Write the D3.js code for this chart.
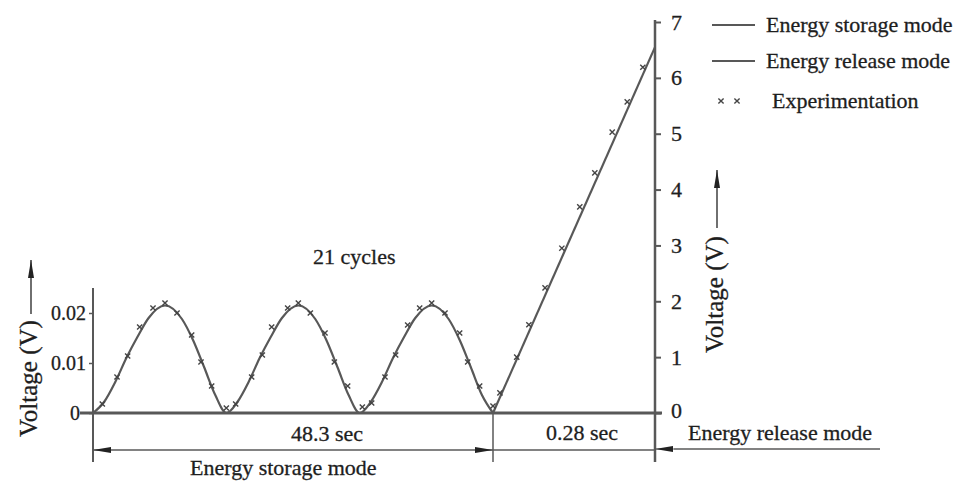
<!DOCTYPE html>
<html>
<head>
<meta charset="utf-8">
<script src="https://cdn.jsdelivr.net/npm/d3@7"></script>
<style>
  body { margin: 0; background: #fff; }
  text { font-family: "Liberation Serif", "Times New Roman", serif; fill: #1e1e1e; stroke: #1e1e1e; stroke-width: 0.3px; }
</style>
</head>
<body>
<svg id="chart" width="971" height="482"></svg>
<script>
// storage mode curve, x in cycles, voltage in V
var storeX = [0, 0.083, 0.167, 0.25, 0.333, 0.417, 0.54, 0.667, 0.75, 0.833, 0.917,
              1, 1.083, 1.167, 1.25, 1.333, 1.417, 1.54, 1.667, 1.75, 1.833, 1.917,
              2, 2.083, 2.167, 2.25, 2.333, 2.417, 2.54, 2.667, 2.75, 2.833, 2.917, 3];
var storeV = [0, 0.0022, 0.0062, 0.0110, 0.0152, 0.0190, 0.0215, 0.0188, 0.0146, 0.0092, 0.0036,
              0, 0.0022, 0.0062, 0.0110, 0.0152, 0.0190, 0.0215, 0.0188, 0.0146, 0.0092, 0.0036,
              0, 0.0022, 0.0062, 0.0110, 0.0152, 0.0190, 0.0215, 0.0188, 0.0146, 0.0092, 0.0036, 0];

// experiment points during storage
var expStoreX = [0.07, 0.18, 0.26, 0.35, 0.45, 0.54, 0.63, 0.74, 0.81, 0.89, 1.0, 1.07,
                 1.19, 1.27, 1.34, 1.46, 1.54, 1.63, 1.74, 1.81, 1.91, 2.02, 2.09,
                 2.19, 2.27, 2.36, 2.45, 2.54, 2.64, 2.75, 2.81, 2.90, 3.0];
var expStoreV = [0.0018, 0.0072, 0.0114, 0.0172, 0.0210, 0.0220, 0.0200, 0.0156, 0.0102, 0.0054, 0.0010, 0.0018,
                 0.0072, 0.0116, 0.0172, 0.0210, 0.0220, 0.0200, 0.0160, 0.0102, 0.0054, 0.0012, 0.0020,
                 0.0072, 0.0116, 0.0176, 0.0210, 0.0220, 0.0200, 0.0160, 0.0102, 0.0054, 0.0014];

// release mode, x in seconds
var releaseT = [0, 0.28];
var releaseV = [0, 6.55];
var expRelT = [0.012, 0.041, 0.062, 0.090, 0.119, 0.150, 0.176, 0.206, 0.232, 0.259];
var expRelV = [0.36, 1.00, 1.58, 2.24, 2.95, 3.69, 4.30, 5.03, 5.57, 6.19];

var leftTicks = [0, 0.01, 0.02];
var rightTicks = [0, 1, 2, 3, 4, 5, 6, 7];
var legendNames = ["Energy storage mode", "Energy release mode", "Experimentation"];

var grey = "#585858";
var svg = d3.select("#chart");

var xS = d3.scaleLinear().domain([0, 3]).range([93, 493]),
    xR = d3.scaleLinear().domain([0, 0.28]).range([493, 655]),
    yS = d3.scaleLinear().domain([0, 0.025]).range([413, 288]),
    yR = d3.scaleLinear().domain([0, 7]).range([413, 22]);

var defs = svg.append("defs");
defs.append("marker").attr("id", "ah")
    .attr("viewBox", "0 0 18 6").attr("refX", 18).attr("refY", 3)
    .attr("markerWidth", 18).attr("markerHeight", 6)
    .attr("markerUnits", "userSpaceOnUse").attr("orient", "auto-start-reverse")
  .append("path").attr("d", "M0,0L18,3L0,6Z").attr("fill", "#222");

// baseline
svg.append("line").attr("x1", 80).attr("x2", 662).attr("y1", 413).attr("y2", 413)
    .attr("stroke", grey).attr("stroke-width", 3);

// left axis
svg.append("line").attr("x1", 93).attr("x2", 93).attr("y1", yS(0.025)).attr("y2", 462)
    .attr("stroke", grey).attr("stroke-width", 2);
var gl = svg.append("g").attr("transform", "translate(93,0)")
    .call(d3.axisLeft(yS).tickValues(leftTicks).tickSize(4).tickPadding(4)
      .tickFormat(function(d) { return d === 0 ? "0" : d3.format(".2f")(d); }));
gl.select(".domain").remove();
gl.selectAll("line").attr("stroke", grey).attr("stroke-width", 1.5);
gl.selectAll("text").style("font-family", "Liberation Serif").style("font-size", "20px")
    .attr("x", function(d) { return d === 0 ? -13 : -7; });

// right axis
svg.append("line").attr("x1", 655).attr("x2", 655).attr("y1", 20).attr("y2", 462)
    .attr("stroke", grey).attr("stroke-width", 2.5);
var gr = svg.append("g").attr("transform", "translate(655,0)")
    .call(d3.axisRight(yR).tickValues(rightTicks).tickSize(6).tickPadding(10).tickFormat(d3.format("d")));
gr.select(".domain").remove();
gr.selectAll("line").attr("stroke", grey).attr("stroke-width", 2);
gr.selectAll("text").style("font-family", "Liberation Serif").style("font-size", "22px")
    .attr("dy", function(d) { return d === 0 ? "0.2em" : "0.32em"; });

// extension line at end of storage
svg.append("line").attr("x1", xS(3)).attr("x2", xS(3)).attr("y1", 413).attr("y2", 462)
    .attr("stroke", grey).attr("stroke-width", 1.5);

// curves
var storePts = storeX.map(function(x, i) { return [xS(x), yS(storeV[i])]; });
svg.append("path").attr("d", d3.line().curve(d3.curveMonotoneX)(storePts))
    .attr("fill", "none").attr("stroke", grey).attr("stroke-width", 2.2);
var relPts = releaseT.map(function(t, i) { return [xR(t), yR(releaseV[i])]; });
svg.append("path").attr("d", d3.line()(relPts))
    .attr("fill", "none").attr("stroke", grey).attr("stroke-width", 2.2);

// experiment markers
function cross(g, x, y) {
  var s = 2.6;
  g.append("path").attr("d", "M" + (x - s) + "," + (y - s) + "L" + (x + s) + "," + (y + s) +
      "M" + (x + s) + "," + (y - s) + "L" + (x - s) + "," + (y + s))
    .attr("stroke", "#444").attr("stroke-width", 1.4).attr("fill", "none");
}
var gm = svg.append("g");
expStoreX.forEach(function(x, i) { cross(gm, xS(x), yS(expStoreV[i])); });
expRelT.forEach(function(t, i) { cross(gm, xR(t), yR(expRelV[i])); });

// dimension lines
svg.append("line").attr("x1", 93).attr("x2", xS(3)).attr("y1", 450).attr("y2", 450)
    .attr("stroke", grey).attr("stroke-width", 1.3)
    .attr("marker-start", "url(#ah)").attr("marker-end", "url(#ah)");
svg.append("line").attr("x1", xS(3)).attr("x2", 655).attr("y1", 450).attr("y2", 450)
    .attr("stroke", grey).attr("stroke-width", 1.3);
svg.append("line").attr("x1", 674).attr("x2", 880).attr("y1", 449).attr("y2", 449)
    .attr("stroke", grey).attr("stroke-width", 1.3);
svg.append("line").attr("x1", 674).attr("x2", 655).attr("y1", 449).attr("y2", 449)
    .attr("stroke", grey).attr("marker-end", "url(#ah)");

svg.append("text").attr("x", 327).attr("y", 441).attr("text-anchor", "middle")
    .style("font-size", "22px").text("48.3 sec");
svg.append("text").attr("x", 582).attr("y", 440).attr("text-anchor", "middle")
    .style("font-size", "22px").text("0.28 sec");
svg.append("text").attr("x", 190).attr("y", 475)
    .style("font-size", "22px").text("Energy storage mode");
svg.append("text").attr("x", 688).attr("y", 440)
    .style("font-size", "22px").text("Energy release mode");
svg.append("text").attr("x", 313).attr("y", 264)
    .style("font-size", "22px").text("21 cycles");

// axis titles
svg.append("text").attr("transform", "translate(37,437) rotate(-90)")
    .style("font-size", "25px").text("Voltage (V)");
svg.append("line").attr("x1", 31).attr("x2", 31).attr("y1", 314).attr("y2", 260)
    .attr("stroke", "#222").attr("stroke-width", 1.3).attr("marker-end", "url(#ah)");
svg.append("text").attr("transform", "translate(723,353) rotate(-90)")
    .style("font-size", "25px").text("Voltage (V)");
svg.append("line").attr("x1", 717).attr("x2", 717).attr("y1", 228).attr("y2", 170)
    .attr("stroke", "#222").attr("stroke-width", 1.3).attr("marker-end", "url(#ah)");

// legend
var legY = [25, 61, 101];
legendNames.forEach(function(name, i) {
  if (i < 2) {
    svg.append("line").attr("x1", 712).attr("x2", 755).attr("y1", legY[i]).attr("y2", legY[i])
        .attr("stroke", grey).attr("stroke-width", 2.2);
  } else {
    cross(svg, 721, legY[i]);
    cross(svg, 737, legY[i]);
  }
  svg.append("text").attr("x", i < 2 ? 766 : 772).attr("y", legY[i] + 7)
      .style("font-size", "22px").text(name);
});
</script>
</body>
</html>
